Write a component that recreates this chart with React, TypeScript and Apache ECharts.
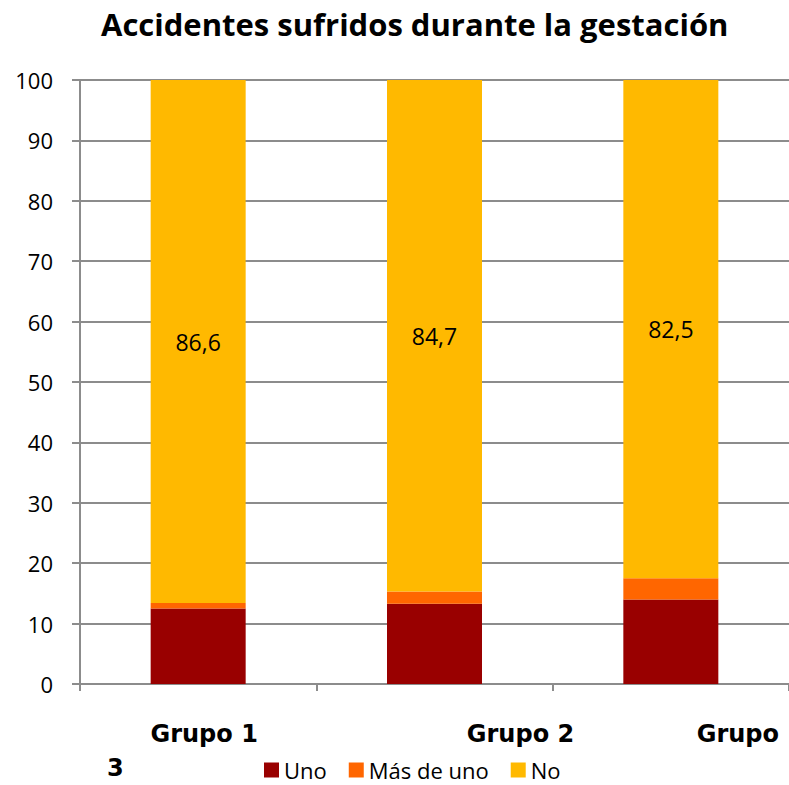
import React, { useEffect, useRef } from "react";
import * as echarts from "echarts";

const categories = ["Grupo 1", "Grupo 2", "Grupo 3"];
const uno = [12.5, 13.3, 14.0];
const masDeUno = [0.9, 2.0, 3.5];
const no = [86.6, 84.7, 82.5];
const seriesNames = ["Uno", "Más de uno", "No"];
const colors = ["#990000", "#FF6600", "#FFB900"];
const title = "Accidentes sufridos durante la gestación";

export default function App() {
  const ref = useRef<HTMLDivElement>(null);
  useEffect(() => {
    if (!ref.current) return;
    const chart = echarts.init(ref.current, null, { renderer: "svg" });
    const axisColor = "#8c8c8c";
    const font = "'Open Sans', sans-serif";
    const bold = "'DejaVu Sans', sans-serif";
    const richBase = { fontFamily: bold, fontWeight: "bold", fontSize: 24, color: "#000" };
    chart.setOption({
      animation: false,
      title: {
        text: title,
        left: 96,
        top: 3,
        textStyle: { fontFamily: font, fontWeight: "bold", fontSize: 31, color: "#000" },
      },
      legend: {
        left: 259,
        top: 754,
        icon: "rect",
        itemWidth: 15,
        itemHeight: 15,
        itemGap: 22,
        textStyle: { fontFamily: font, fontSize: 22, color: "#000" },
        data: seriesNames,
      },
      grid: { left: 80, right: -5, top: 80, bottom: 101 },
      xAxis: {
        type: "category",
        data: categories,
        axisLine: { lineStyle: { color: axisColor, width: 2 } },
        axisTick: { show: true, length: 7, lineStyle: { color: axisColor, width: 2 } },
        axisLabel: {
          interval: 0,
          margin: 38,
          ...richBase,
          formatter: (v: string, i: number) => {
            if (i === 0) return "{a|" + v + "}";
            if (i === 1) return "{b|" + v + "}";
            return "{c|" + v.split(" ")[0] + "}";
          },
          rich: {
            a: { padding: [0, 0, 0, 12], ...richBase },
            b: { padding: [0, 0, 0, 172], ...richBase },
            c: { padding: [0, 0, 0, 134], ...richBase },
          },
        },
      },
      yAxis: {
        type: "value",
        min: 0,
        max: 100,
        interval: 10,
        axisLine: { show: true, lineStyle: { color: axisColor, width: 2 } },
        axisTick: { show: true, length: 8, lineStyle: { color: axisColor, width: 2 } },
        splitLine: { lineStyle: { color: axisColor, width: 2 } },
        axisLabel: { margin: 27, fontFamily: font, fontSize: 22, color: "#000" },
      },
      graphic: [
        {
          type: "text",
          left: 107,
          top: 756,
          style: {
            text: categories[2].split(" ")[1],
            fontFamily: bold,
            fontWeight: "bold",
            fontSize: 24,
            fill: "#000",
          },
        },
      ],
      series: [
        { name: seriesNames[0], type: "bar", stack: "t", data: uno, barWidth: 95, itemStyle: { color: colors[0] } },
        { name: seriesNames[1], type: "bar", stack: "t", data: masDeUno, barWidth: 95, itemStyle: { color: colors[1] } },
        {
          name: seriesNames[2],
          type: "bar",
          stack: "t",
          data: no,
          barWidth: 95,
          itemStyle: { color: colors[2] },
          label: {
            show: true,
            position: "inside",
            fontFamily: font,
            fontSize: 23,
            color: "#000",
            formatter: (p: any) => String(p.value.toFixed(1)).replace(".", ","),
          },
        },
      ],
    });
    return () => chart.dispose();
  }, []);
  return (
    <div
      ref={ref}
      style={{ position: "fixed", left: 0, top: 0, width: 789, height: 785, background: "#fff" }}
    />
  );
}
